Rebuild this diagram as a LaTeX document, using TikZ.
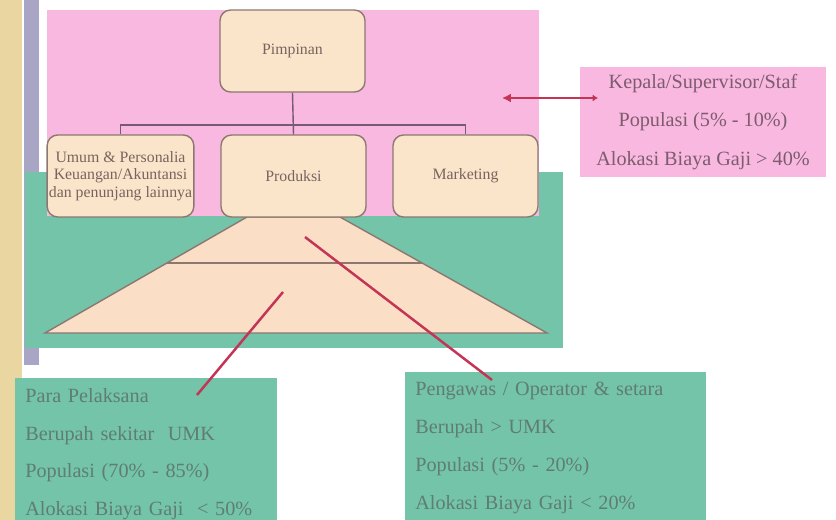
\documentclass[tikz,border=0pt]{standalone}
\usepackage{fontspec}
\setmainfont{Liberation Serif}
\usetikzlibrary{arrows.meta}

\definecolor{pinkbg}{RGB}{248,184,224}
\definecolor{tealbg}{RGB}{116,196,170}
\definecolor{beigebox}{RGB}{250,228,202}
\definecolor{pyrfill}{RGB}{250,222,198}
\definecolor{boxline}{RGB}{140,120,112}
\definecolor{busline}{RGB}{120,90,120}
\definecolor{redline}{RGB}{196,52,84}
\definecolor{pinktext}{RGB}{125,92,110}
\definecolor{tealtext}{RGB}{95,125,115}
\definecolor{boxtext}{RGB}{120,100,95}
\definecolor{strip}{RGB}{234,214,160}
\definecolor{stripgray}{RGB}{168,166,196}

\tikzset{
  orgbox/.style={draw=boxline, thick, fill=beigebox, rounded corners=6pt,
    minimum width=2.9cm, minimum height=1.64cm, inner sep=1pt, align=center,
    text=boxtext, font=\fontsize{9}{10}\selectfont},
  infobox/.style={fill=tealbg, text=tealtext, align=left, anchor=north west,
    inner xsep=0.2cm, inner ysep=0.2cm,
    font=\fontsize{11.5}{21.5}\selectfont},
  redarrow/.style={redline, line width=1.4pt}
}

\begin{document}
\begin{tikzpicture}[x=0.02cm, y=-0.02cm]
            \useasboundingbox (0,0) rectangle (836,520);

            % Side strips
            \fill[strip] (0,0) rectangle (22,520);
            \fill[stripgray] (24,0) rectangle (39,365);

            % Background panels
            \fill[tealbg] (25,172) rectangle (563,348);
            \fill[pinkbg] (47,10) rectangle (539,216);

            % Pyramid
            \draw[boxline, thick, fill=pyrfill] (247,217) -- (340,217) -- (547,333) -- (45,333) -- cycle;
            \draw[boxline, thick] (167,263) -- (422,263);

            % Top of the organisation
            \node[orgbox] (pim) at (292.5,51) {Pimpinan};

            % Departments
            \node[orgbox] (umum) at (120.5,176) {Umum \& Personalia\\Keuangan/Akuntansi\\dan penunjang lainnya};
            \node[orgbox] (prod) at (293.5,176) {Produksi};
            \node[orgbox] (mkt) at (465.5,176) {Marketing};

            % Org lines
            \coordinate (bus) at (293,125);
            \draw[busline, thick] (pim.south) -- (prod.north);
            \draw[busline, thick] (umum.north) |- (bus) -| (mkt.north);

            % Info boxes
            \node[fill=pinkbg, text=pinktext, align=center, minimum width=4.92cm,
              minimum height=2.2cm, font=\fontsize{11.5}{22}\selectfont] (kepala) at (703,122)
              {Kepala/Supervisor/Staf\\Populasi (5\% - 10\%)\\Alokasi Biaya Gaji > 40\%};
            \node[infobox, text width=4.84cm] (pelaksana) at (15,378)
              {Para Pelaksana\\Berupah sekitar\ \ UMK\\Populasi (70\% - 85\%)\\Alokasi Biaya Gaji\ \ < 50\%};
            \node[infobox, text width=5.62cm] (pengawas) at (405,372)
              {Pengawas / Operator \& setara\\Berupah > UMK\\Populasi (5\% - 20\%)\\Alokasi Biaya Gaji < 20\%};

            % Pointers
            \coordinate (kStart) at (598,98);
            \coordinate (kEnd) at (502,98);
            \coordinate (pStart) at (197,395);
            \coordinate (pEnd) at (283,292);
            \coordinate (gStart) at (305,237);
            \coordinate (gEnd) at (492,380);
            \draw[redarrow, {Latex[length=5pt,width=5pt]}-{Latex[length=3pt,width=4pt]}] (kEnd) -- (kStart);
            \draw[redarrow] (pStart) -- (pEnd);
            \draw[redarrow] (gStart) -- (gEnd);

\end{tikzpicture}
\end{document}
